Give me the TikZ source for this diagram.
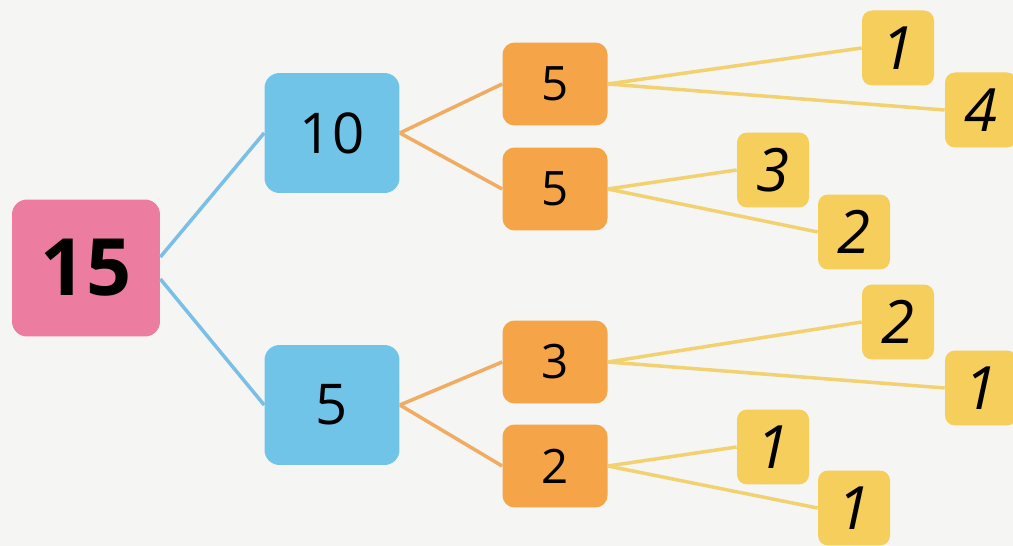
\documentclass[tikz,border=0pt]{standalone}
\usepackage{fontspec}
\setmainfont{Open Sans}
\usetikzlibrary{positioning}
\definecolor{pinkbox}{RGB}{236,124,160}
\definecolor{bluebox}{RGB}{112,196,232}
\definecolor{orangebox}{RGB}{246,164,72}
\definecolor{yellowbox}{RGB}{246,206,92}
\definecolor{paper}{RGB}{245,245,243}
\tikzstyle{rootbox} = [rectangle, rounded corners=0.3cm, minimum width=2.96cm, minimum
height=2.74cm, inner sep=0pt, text centered, fill=pinkbox, font=\fontsize{45}{45}\selectfont\bfseries]
\tikzstyle{bluenode} = [rectangle, rounded corners=0.3cm, minimum width=2.7cm, minimum
height=2.4cm, inner sep=0pt, text centered, fill=bluebox, font=\fontsize{32}{32}\selectfont]
\tikzstyle{orangenode} = [rectangle, rounded corners=0.24cm, minimum width=2.1cm, minimum
height=1.66cm, inner sep=0pt, text centered, fill=orangebox, font=\fontsize{27}{27}\selectfont]
\tikzstyle{leaf} = [rectangle, rounded corners=0.2cm, minimum width=1.44cm, minimum
height=1.5cm, inner sep=0pt, text centered, fill=yellowbox, font=\fontsize{34}{34}\selectfont\itshape]
\tikzstyle{blueline} = [line width=2pt, draw={rgb,255:red,122;green,192;blue,230}]
\tikzstyle{orangeline} = [line width=2pt, draw={rgb,255:red,240;green,172;blue,98}]
\tikzstyle{yellowline} = [line width=2pt, draw={rgb,255:red,242;green,210;blue,112}]

\begin{document}
\begin{tikzpicture}[x=0.02cm, y=-0.02cm]
  \fill [paper] (0,0) rectangle (1013,546);
  \useasboundingbox (0,0) rectangle (1013,546);

  \node (n15) [rootbox] at (86,268) {15};

  \node (n10) [bluenode] at (332,133) {10};
  \node (n5) [bluenode] at (332,405) {5};

  \node (n5a) [orangenode] at (555,84) {5};
  \node (n5b) [orangenode] at (555,189) {5};
  \node (n3) [orangenode] at (555,362) {3};
  \node (n2) [orangenode] at (555,466) {2};

  \node (l1) [leaf] at (898,48) {1};
  \node (l4) [leaf] at (981,110) {4};
  \node (l3) [leaf] at (773,170) {3};
  \node (l2) [leaf] at (854,232) {2};
  \node (l2b) [leaf] at (898,322) {2};
  \node (l1b) [leaf] at (981,388) {1};
  \node (l1c) [leaf] at (773,447) {1};
  \node (l1d) [leaf] at (854,508) {1};

  \draw [blueline] ([yshift=0.22cm]n15.east) -- (n10.west);
  \draw [blueline] ([yshift=-0.22cm]n15.east) -- (n5.west);
  \draw [orangeline] (n10.east) -- (n5a.west);
  \draw [orangeline] (n10.east) -- (n5b.west);
  \draw [orangeline] (n5.east) -- (n3.west);
  \draw [orangeline] (n5.east) -- (n2.west);
  \draw [yellowline] (n5a.east) -- (l1.west);
  \draw [yellowline] (n5a.east) -- (l4.west);
  \draw [yellowline] (n5b.east) -- (l3.west);
  \draw [yellowline] (n5b.east) -- (l2.west);
  \draw [yellowline] (n3.east) -- (l2b.west);
  \draw [yellowline] (n3.east) -- (l1b.west);
  \draw [yellowline] (n2.east) -- (l1c.west);
  \draw [yellowline] (n2.east) -- (l1d.west);
\end{tikzpicture}
\end{document}
